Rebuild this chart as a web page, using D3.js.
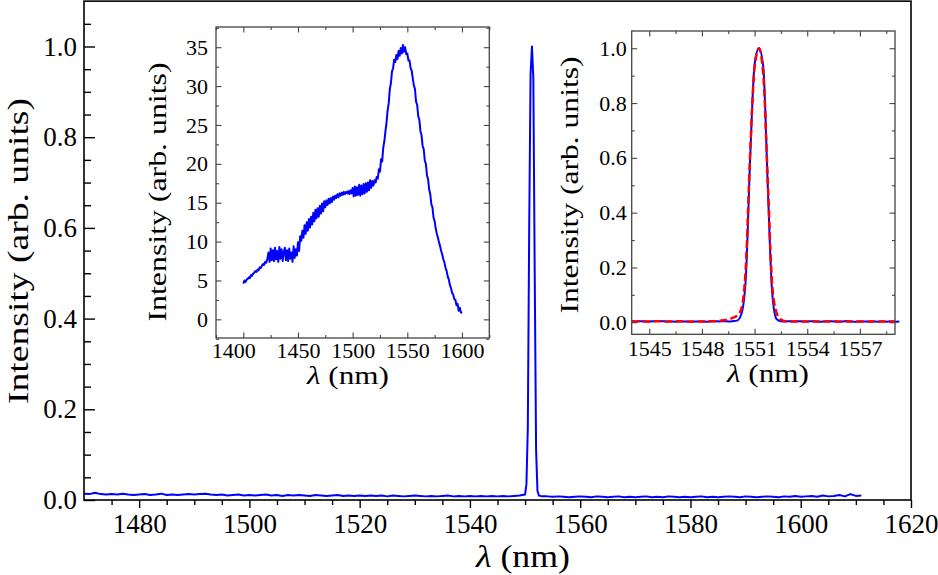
<!DOCTYPE html>
<html><head><meta charset="utf-8">
<script src="https://cdn.jsdelivr.net/npm/d3@7"></script>
<style>body{margin:0;background:#fff} svg{display:block} svg text{font-family:'Liberation Serif','Times New Roman',serif}</style>
</head><body><svg id="c" width="938" height="575"></svg>
<script>
// ---------------- DATA ----------------
// Main spectrum (laser line), wavelength grid in nm
const mainWl = [...d3.range(1470, 1550, 1), ...d3.range(1550, 1553, 0.25), ...d3.range(1553, 1612, 1)];
const mainIntensity = [
  0.014,0.013,0.016,0.013,0.012,0.013,0.012,0.014,0.012,0.011,
  0.012,0.013,0.011,0.012,0.014,0.011,0.012,0.011,0.012,0.013,
  0.012,0.013,0.014,0.012,0.011,0.012,0.010,0.011,0.012,0.010,
  0.011,0.010,0.011,0.012,0.010,0.011,0.009,0.011,0.010,0.011,
  0.010,0.009,0.011,0.010,0.009,0.010,0.011,0.009,0.010,0.009,
  0.010,0.009,0.010,0.009,0.010,0.008,0.010,0.009,0.008,0.009,
  0.010,0.009,0.008,0.009,0.008,0.009,0.010,0.008,0.009,0.008,
  0.009,0.008,0.009,0.008,0.009,0.008,0.009,0.008,0.009,0.010,
  0.012,0.035,0.16,0.6,0.94,1.0,0.93,0.5,0.11,0.02,0.01,0.009,
  0.008,0.008,0.007,0.008,0.007,0.006,0.007,0.008,
  0.007,0.006,0.008,0.007,0.006,0.007,0.008,0.006,0.007,0.006,
  0.007,0.008,0.006,0.007,0.006,0.008,0.007,0.006,0.007,0.006,
  0.007,0.008,0.006,0.007,0.006,0.007,0.008,0.007,0.006,0.008,
  0.007,0.006,0.007,0.008,0.007,0.006,0.008,0.007,0.009,0.007,
  0.008,0.009,0.007,0.010,0.008,0.009,0.011,0.008,0.013,0.009,0.010
];
const mainXTicks = [1480, 1500, 1520, 1540, 1560, 1580, 1600, 1620];
const mainYTicks = [0.0, 0.2, 0.4, 0.6, 0.8, 1.0];

// Inset 1: broadband ASE spectrum
const aseWl = d3.range(1400, 1601, 1);
const aseIntensity = [
  4.6,5.0,4.8,5.1,5.2,5.4,5.3,5.7,5.6,5.9,
  6.0,6.2,6.1,6.4,6.3,6.7,6.6,6.9,7.1,7.0,
  7.4,7.3,7.8,8.6,7.4,9.1,7.6,8.9,7.5,9.2,
  7.7,8.8,7.4,9.3,7.8,9.0,7.5,8.7,9.2,7.6,
  8.9,7.5,9.1,7.8,8.6,7.4,9.4,7.9,9.0,8.2,
  9.9,8.8,10.7,10.1,11.4,10.5,12.1,11.0,12.5,11.4,
  12.9,11.8,13.2,12.2,13.7,12.6,14.1,13.0,14.3,13.2,
  14.6,13.6,14.9,13.9,15.2,14.4,15.3,14.7,15.5,14.9,
  15.6,15.1,15.8,15.4,15.9,15.6,16.1,15.7,16.2,15.9,
  16.3,16.0,16.4,16.1,16.4,16.2,16.5,16.1,16.6,16.2,
  16.9,15.8,17.1,15.9,17.0,16.0,17.3,15.9,17.2,16.1,
  17.4,16.2,17.5,16.4,17.6,16.6,17.9,16.9,17.8,17.2,
  17.9,17.6,18.3,18.1,19.3,19.0,20.6,20.3,22.1,22.9,
  24.2,25.3,26.9,27.8,29.6,30.4,31.9,32.3,33.4,33.1,
  34.0,33.5,34.5,33.9,34.9,34.2,35.3,34.4,35.0,34.1,
  34.2,33.3,33.3,32.3,32.0,31.0,30.1,29.6,28.0,27.6,
  26.1,25.7,24.2,23.7,22.3,21.9,20.4,20.0,18.5,18.0,
  16.7,16.1,14.8,14.4,13.1,12.6,11.7,11.0,10.5,9.9,
  9.4,8.8,8.3,7.7,7.3,6.6,6.2,5.5,5.1,4.4,
  4.0,3.4,3.2,2.6,2.5,1.8,2.0,1.1,1.5,0.9,
  0.8
];
const aseXTicks = [1400, 1450, 1500, 1550, 1600];
const aseYTicks = [0, 5, 10, 15, 20, 25, 30, 35];

// Inset 2: zoom on the laser line, measured (blue) and fitted (red dashed)
const zoomWlMeas = d3.range(1544, 1559.26, 0.25);
const zoomMeas = [
  0.004,0.003,0.004,0.003,0.003,0.004,0.005,0.004,
  0.003,0.003,0.002,0.003,0.003,0.002,0.002,0.003,
  0.003,0.002,0.003,0.004,0.003,0.004,0.003,0.004,
  0.006,0.03,0.16,0.6,0.94,1.0,0.93,0.5,
  0.11,0.012,0.004,0.003,0.004,0.003,0.004,0.003,
  0.003,0.004,0.003,0.002,0.003,0.004,0.003,0.002,
  0.003,0.005,0.003,0.002,0.003,0.003,0.002,0.003,
  0.002,0.003,0.002,0.003,0.002,0.003
];
const zoomWlFit = d3.range(1544, 1559.01, 0.25);
const zoomFit = [
  0.003,0.003,0.004,0.003,0.003,0.003,0.004,0.003,
  0.003,0.003,0.003,0.004,0.003,0.003,0.003,0.003,
  0.003,0.003,0.004,0.004,0.005,0.007,0.010,0.016,
  0.024,0.05,0.2,0.62,0.93,1.0,0.9,0.52,
  0.14,0.035,0.010,0.004,0.003,0.003,0.003,0.003,
  0.003,0.003,0.003,0.003,0.003,0.003,0.004,0.003,
  0.003,0.003,0.003,0.003,0.003,0.003,0.003,0.003,
  0.003,0.003,0.003,0.003,0.003
];
const zoomXTicks = [1545, 1548, 1551, 1554, 1557];
const zoomYTicks = [0.0, 0.2, 0.4, 0.6, 0.8, 1.0];

// ---------------- DRAWING ----------------
const FONT = "'Liberation Serif','Times New Roman',serif";
const svg = d3.select("#c");

function styleAxis(g, color, width, size) {
  g.attr("font-family", FONT).attr("font-size", size);
  g.select(".domain").remove();
  g.selectAll(".tick line").attr("stroke", color).attr("stroke-width", width);
  g.selectAll(".tick text").attr("fill", "#000").style("font-family", FONT).style("font-size", size + "px");
}
function minorVals(lo, hi, step, majors) {
  return d3.range(lo, hi + step / 2, step).filter(v => !majors.some(m => Math.abs(m - v) < step / 10));
}

// ----- Main axes -----
const mx = d3.scaleLinear().domain([1470, 1620]).range([84, 911]);
const my = d3.scaleLinear().domain([0, 1.1]).range([500, 1.15]);

const gMain = svg.append("g");
gMain.append("g").attr("transform", "translate(0,500)")
  .call(d3.axisBottom(mx).tickValues(minorVals(1475, 1615, 5, mainXTicks)).tickSize(5).tickFormat(""))
  .call(g => styleAxis(g, "#000", 1.4, 10));
gMain.append("g").attr("transform", "translate(84,0)")
  .call(d3.axisLeft(my).tickValues(minorVals(0.05, 1.05, 0.05, [0,0.2,0.4,0.6,0.8,1.0])).tickSizeInner(-7).tickSizeOuter(0).tickFormat(""))
  .call(g => styleAxis(g, "#000", 1.4, 10));
gMain.append("g").attr("transform", "translate(0,500)")
  .call(d3.axisBottom(mx).tickValues(mainXTicks).tickSizeInner(8).tickSizeOuter(0).tickPadding(6).tickFormat(d3.format("d")))
  .call(g => styleAxis(g, "#000", 1.4, 27));
gMain.append("g").attr("transform", "translate(84,0)")
  .call(d3.axisLeft(my).tickValues(mainYTicks).tickSizeInner(-11).tickSizeOuter(0).tickPadding(7).tickFormat(d3.format(".1f")))
  .call(g => styleAxis(g, "#000", 1.4, 27));

gMain.append("path")
  .datum(mainWl.map((w, i) => [w, mainIntensity[i]]))
  .attr("fill", "none").attr("stroke", "#0000ff").attr("stroke-width", 2)
  .attr("stroke-linejoin", "round")
  .attr("d", d3.line().x(d => mx(d[0])).y(d => my(d[1])));

gMain.append("rect").attr("x", 84).attr("y", 1.15).attr("width", 911 - 84).attr("height", 500 - 1.15)
  .attr("fill", "none").attr("stroke", "#000").attr("stroke-width", 1.6);

svg.append("text").attr("transform", "translate(27.5,251) rotate(-90)")
  .attr("text-anchor", "middle").style("font-size", "30px")
  .attr("textLength", 306).attr("lengthAdjust", "spacingAndGlyphs")
  .text("Intensity (arb. units)");
const mxl = svg.append("text").attr("x", 523).attr("y", 566.5).attr("text-anchor", "middle")
  .style("font-size", "31px").attr("textLength", 94).attr("lengthAdjust", "spacingAndGlyphs");
mxl.append("tspan").attr("font-style", "italic").text("λ");
mxl.append("tspan").text(" (nm)");

// ----- Inset helper -----
function drawInset(o) {
  const g = svg.append("g");
  const [x0, x1] = o.x.range(), [y0, y1] = o.y.range();
  g.append("rect").attr("x", x0).attr("y", y1).attr("width", x1 - x0).attr("height", y0 - y1).attr("fill", "#fff");
  const col = "#444";
  const mk = (axisFn, scale, vals, tr, size) =>
    g.append("g").attr("transform", tr)
      .call(axisFn(scale).tickValues(vals).tickSizeInner(-size).tickSizeOuter(0).tickFormat(""))
      .call(s => styleAxis(s, col, 1.1, 10));
  mk(d3.axisBottom, o.x, o.xMinor, `translate(0,${y0})`, 3);
  mk(d3.axisTop, o.x, o.xMinor, `translate(0,${y1})`, 3);
  mk(d3.axisLeft, o.y, o.yMinor, `translate(${x0},0)`, 3);
  mk(d3.axisRight, o.y, o.yMinor, `translate(${x1},0)`, 3);
  mk(d3.axisTop, o.x, o.xMajor, `translate(0,${y1})`, 5.5);
  mk(d3.axisRight, o.y, o.yMajor, `translate(${x1},0)`, 5.5);
  const bx = g.append("g").attr("transform", `translate(0,${y0})`)
    .call(d3.axisBottom(o.x).tickValues(o.xMajor).tickSizeInner(-5.5).tickSizeOuter(0).tickPadding(o.xPad).tickFormat(o.xFmt))
    .call(s => styleAxis(s, col, 1.1, o.tickFont));
  if (o.firstDx) bx.selectAll(".tick text").filter(d => d === o.xMajor[0]).attr("dx", o.firstDx);
  g.append("g").attr("transform", `translate(${x0},0)`)
    .call(d3.axisLeft(o.y).tickValues(o.yMajor).tickSizeInner(-5.5).tickSizeOuter(0).tickPadding(o.yPad).tickFormat(o.yFmt))
    .call(s => styleAxis(s, col, 1.1, o.tickFont));
  o.series.forEach(s => {
    const p = g.append("path")
      .datum(s.x.map((w, i) => [w, s.v[i]]))
      .attr("fill", "none").attr("stroke", s.color).attr("stroke-width", s.width)
      .attr("stroke-linejoin", "round")
      .attr("d", d3.line().curve(s.curve || d3.curveLinear).x(d => o.x(d[0])).y(d => o.y(d[1])));
    if (s.dash) p.attr("stroke-dasharray", s.dash);
  });
  g.append("rect").attr("x", x0).attr("y", y1).attr("width", x1 - x0).attr("height", y0 - y1)
    .attr("fill", "none").attr("stroke", col).attr("stroke-width", 1.3);
  g.append("text").attr("transform", `translate(${o.ylab[0]},${o.ylab[1]}) rotate(-90)`)
    .attr("text-anchor", "middle").style("font-size", "25px")
    .attr("textLength", o.ylab[2]).attr("lengthAdjust", "spacingAndGlyphs")
    .text("Intensity (arb. units)");
  const t = g.append("text").attr("x", o.xlab[0]).attr("y", o.xlab[1]).attr("text-anchor", "middle")
    .style("font-size", "25px").attr("textLength", 82).attr("lengthAdjust", "spacingAndGlyphs");
  t.append("tspan").attr("font-style", "italic").text("λ");
  t.append("tspan").text(" (nm)");
}

drawInset({
  x: d3.scaleLinear().domain([1375, 1625]).range([216, 489.3]),
  y: d3.scaleLinear().domain([-2.4, 37.6]).range([338, 27]),
  xMajor: aseXTicks, xMinor: minorVals(1375, 1625, 25, aseXTicks),
  yMajor: aseYTicks, yMinor: minorVals(-2.5, 37.5, 2.5, aseYTicks),
  xFmt: d3.format("d"), yFmt: d3.format("d"), tickFont: 22, xPad: 4, yPad: 8, firstDx: -10,
  series: [{ x: aseWl, v: aseIntensity, color: "#0000ff", width: 2 }],
  ylab: [166, 192, 259], xlab: [348, 384]
});

drawInset({
  x: d3.scaleLinear().domain([1544, 1559]).range([631.7, 895]),
  y: d3.scaleLinear().domain([-0.044, 1.063]).range([334.3, 31]),
  xMajor: zoomXTicks, xMinor: minorVals(1543.5, 1558.5, 1.5, zoomXTicks).filter(v => v >= 1544),
  yMajor: zoomYTicks, yMinor: minorVals(0.1, 0.9, 0.2, []),
  xFmt: d3.format("d"), yFmt: d3.format(".1f"), tickFont: 22, xPad: 6, yPad: 5,
  series: [
    { x: zoomWlMeas, v: zoomMeas, color: "#0000ff", width: 2, curve: d3.curveMonotoneX },
    { x: zoomWlFit, v: zoomFit, color: "#ff0000", width: 2.5, curve: d3.curveMonotoneX, dash: "7.5,3.5" }
  ],
  ylab: [577.6, 185, 257], xlab: [768, 382]
});
</script></body></html>
